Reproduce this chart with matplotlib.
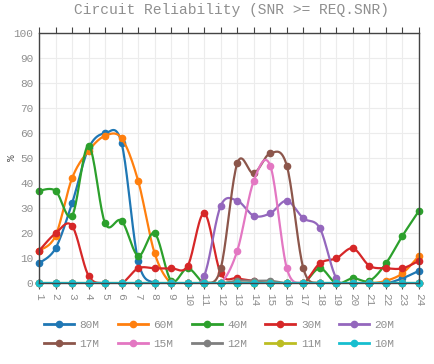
import numpy as np
import matplotlib
matplotlib.use("Agg")
import matplotlib.pyplot as plt
from matplotlib.lines import Line2D

hours = list(range(1, 25))
labels = ["80M", "60M", "40M", "30M", "20M", "17M", "15M", "12M", "11M", "10M"]
colors = ["#1f77b4", "#ff7f0e", "#2ca02c", "#d62728", "#9467bd",
          "#8c564b", "#e377c2", "#7f7f7f", "#bcbd22", "#17becf"]

s80 = [8, 14, 32, 54, 60, 56, 9, 0, 0, 0, 0, 0, 0, 0, 0, 0, 0, 0, 0, 0, 0, 0, 2, 5]
s60 = [13, 19, 42, 53, 59, 58, 41, 12, 0, 0, 0, 0, 0, 0, 0, 0, 0, 0, 0, 0, 0, 1, 4, 11]
s40 = [37, 37, 27, 55, 24, 25, 11, 20, 1, 6, 0, 0, 0, 0, 0, 0, 0, 6, 0, 2, 1, 8, 19, 29]
s30 = [13, 20, 23, 3, 0, 0, 6, 6, 6, 7, 28, 4, 2, 1, 0, 0, 0, 8, 10, 14, 7, 6, 6, 9]
s20 = [0, 0, 0, 0, 0, 0, 0, 0, 0, 0, 3, 31, 33, 27, 28, 33, 26, 22, 2, 0, 0, 0, 0, 0]
s17 = [0, 0, 0, 0, 0, 0, 0, 0, 0, 0, 0, 6, 48, 44, 52, 47, 6, 0, 0, 0, 0, 0, 0, 0]
s15 = [0, 0, 0, 0, 0, 0, 0, 0, 0, 0, 0, 0, 13, 41, 47, 6, 0, 0, 0, 0, 0, 0, 0, 0]
s12 = [0, 0, 0, 0, 0, 0, 0, 0, 0, 0, 0, 0, 1, 1, 1, 0, 0, 0, 0, 0, 0, 0, 0, 0]
s11 = [0] * 24
s10 = [0] * 24
series = [s80, s60, s40, s30, s20, s17, s15, s12, s11, s10]


def spline(x, y, n=20):
    x = np.asarray(x, float)
    y = np.asarray(y, float)
    xs, ys = [], []
    m = len(x)
    for i in range(m - 1):
        p0 = np.array([x[max(i - 1, 0)], y[max(i - 1, 0)]])
        p1 = np.array([x[i], y[i]])
        p2 = np.array([x[i + 1], y[i + 1]])
        p3 = np.array([x[min(i + 2, m - 1)], y[min(i + 2, m - 1)]])
        c1 = p1 + (p2 - p0) / 6.0
        c2 = p2 - (p3 - p1) / 6.0
        t = np.linspace(0, 1, n)[:, None]
        pts = ((1 - t) ** 3) * p1 + 3 * ((1 - t) ** 2) * t * c1 + 3 * (1 - t) * t ** 2 * c2 + t ** 3 * p2
        if i > 0:
            pts = pts[1:]
        xs.append(pts[:, 0])
        ys.append(pts[:, 1])
    return np.concatenate(xs), np.concatenate(ys)


font = "Liberation Mono"
txtc = "#8f8f8f"

fig = plt.figure(figsize=(4.35, 3.64), dpi=100)
ax = fig.add_axes([39 / 435, 1 - 283.3 / 364, 380 / 435, 250 / 364])

for lab, col, s in zip(labels, colors, series):
    sx, sy = spline(hours, s)
    ax.plot(sx, sy, color=col, lw=1.6, solid_capstyle="round")
    ax.plot(hours, s, linestyle="none", marker="o", ms=4.5, color=col, clip_on=False)

ax.set_xlim(1, 24)
ax.set_ylim(0, 100)
ax.set_xticks(hours)
ax.set_xticklabels([str(h) for h in hours], rotation=-90, fontfamily=font,
                   fontsize=8, color=txtc)
ax.set_yticks(range(0, 101, 10))
ax.set_yticklabels([str(v) for v in range(0, 101, 10)], fontfamily=font,
                   fontsize=8, color=txtc)
ax.tick_params(axis="x", which="both", top=True, bottom=True, direction="out",
               length=4, width=0.8, color="#444444", pad=3)
ax.tick_params(axis="y", length=0, pad=4)
ax.grid(True, color="#ececec", lw=0.8)
ax.set_axisbelow(True)
for sp in ax.spines.values():
    sp.set_color("#444444")
    sp.set_linewidth(1.0)

fig.text(232 / 435, 1 - 10 / 364, "Circuit Reliability (SNR >= REQ.SNR)",
         ha="center", va="center", fontfamily=font, fontsize=10.5, color=txtc)
fig.text(12 / 435, 1 - 158 / 364, "%", rotation=90, ha="center", va="center",
         fontfamily=font, fontsize=8, color="#555555")

handles = [Line2D([0], [0], color=c, lw=2, marker="o", ms=4.5) for c in colors]
# matplotlib fills legend columns first: interleave so rows read 80M..20M / 17M..10M
order = [0, 5, 1, 6, 2, 7, 3, 8, 4, 9]
leg = fig.legend([handles[i] for i in order], [labels[i] for i in order],
                 ncol=5, loc="upper left",
                 bbox_to_anchor=(44 / 435, 1 - 320 / 364), frameon=False,
                 prop={"family": font, "size": 8}, handlelength=2.7,
                 handletextpad=0.5, columnspacing=1.65, labelspacing=0.8,
                 borderaxespad=0, borderpad=0)
for t in leg.get_texts():
    t.set_color(txtc)

fig.savefig("out.png", dpi=100)
